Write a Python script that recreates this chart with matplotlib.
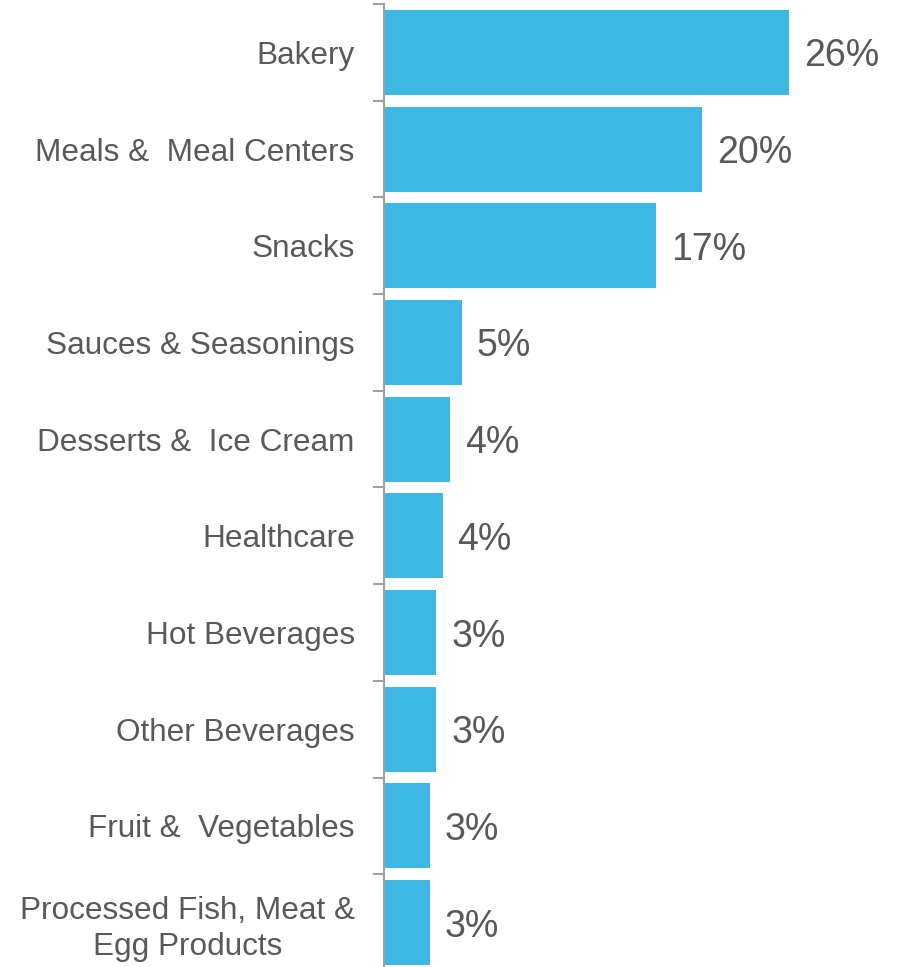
import matplotlib
matplotlib.use("Agg")
import matplotlib.pyplot as plt
from matplotlib.ticker import FixedLocator

categories = ["Bakery", "Meals &  Meal Centers", "Snacks", "Sauces & Seasonings",
              "Desserts &  Ice Cream", "Healthcare", "Hot Beverages", "Other Beverages",
              "Fruit &  Vegetables", "Processed Fish, Meat &\nEgg Products"]
values = [25.6, 20.1, 17.2, 4.9, 4.2, 3.7, 3.3, 3.3, 2.9, 2.9]

plt.rcParams['font.family'] = ['Liberation Sans', 'DejaVu Sans']
text_color = "#595959"
bar_color = "#3DB7E4"
spine_color = "#A0A0A0"

fig = plt.figure(figsize=(9, 9.67), dpi=100)
ax = fig.add_axes([384/900, -4/967, 1 - 384/900, 967/967])

y = list(range(len(categories)))
ax.barh(y, values, height=0.88, color=bar_color)
ax.set_ylim(len(categories) - 0.5, -0.5)
ax.set_xlim(0, 32.6)

for yi, v in zip(y, values):
    ax.text(v + 0.95, yi, f"{v:.0f}%", va="center_baseline", ha="left", fontsize=27, color=text_color)

ax.set_yticks(y)
ax.set_yticklabels(categories, fontsize=22.7, color=text_color, linespacing=1.25)
for lbl in ax.get_yticklabels():
    lbl.set_verticalalignment("center_baseline")
    lbl.set_multialignment("center")
ax.tick_params(axis="y", which="major", length=0, pad=21)
ax.yaxis.set_minor_locator(FixedLocator([i - 0.5 for i in range(len(categories) + 1)]))
ax.tick_params(axis="y", which="minor", length=8, width=1.5, color=spine_color)
ax.set_xticks([])
for s in ["top", "right", "bottom"]:
    ax.spines[s].set_visible(False)
ax.spines["left"].set_color(spine_color)
ax.spines["left"].set_linewidth(1.5)

fig.savefig("out.png", dpi=100)
